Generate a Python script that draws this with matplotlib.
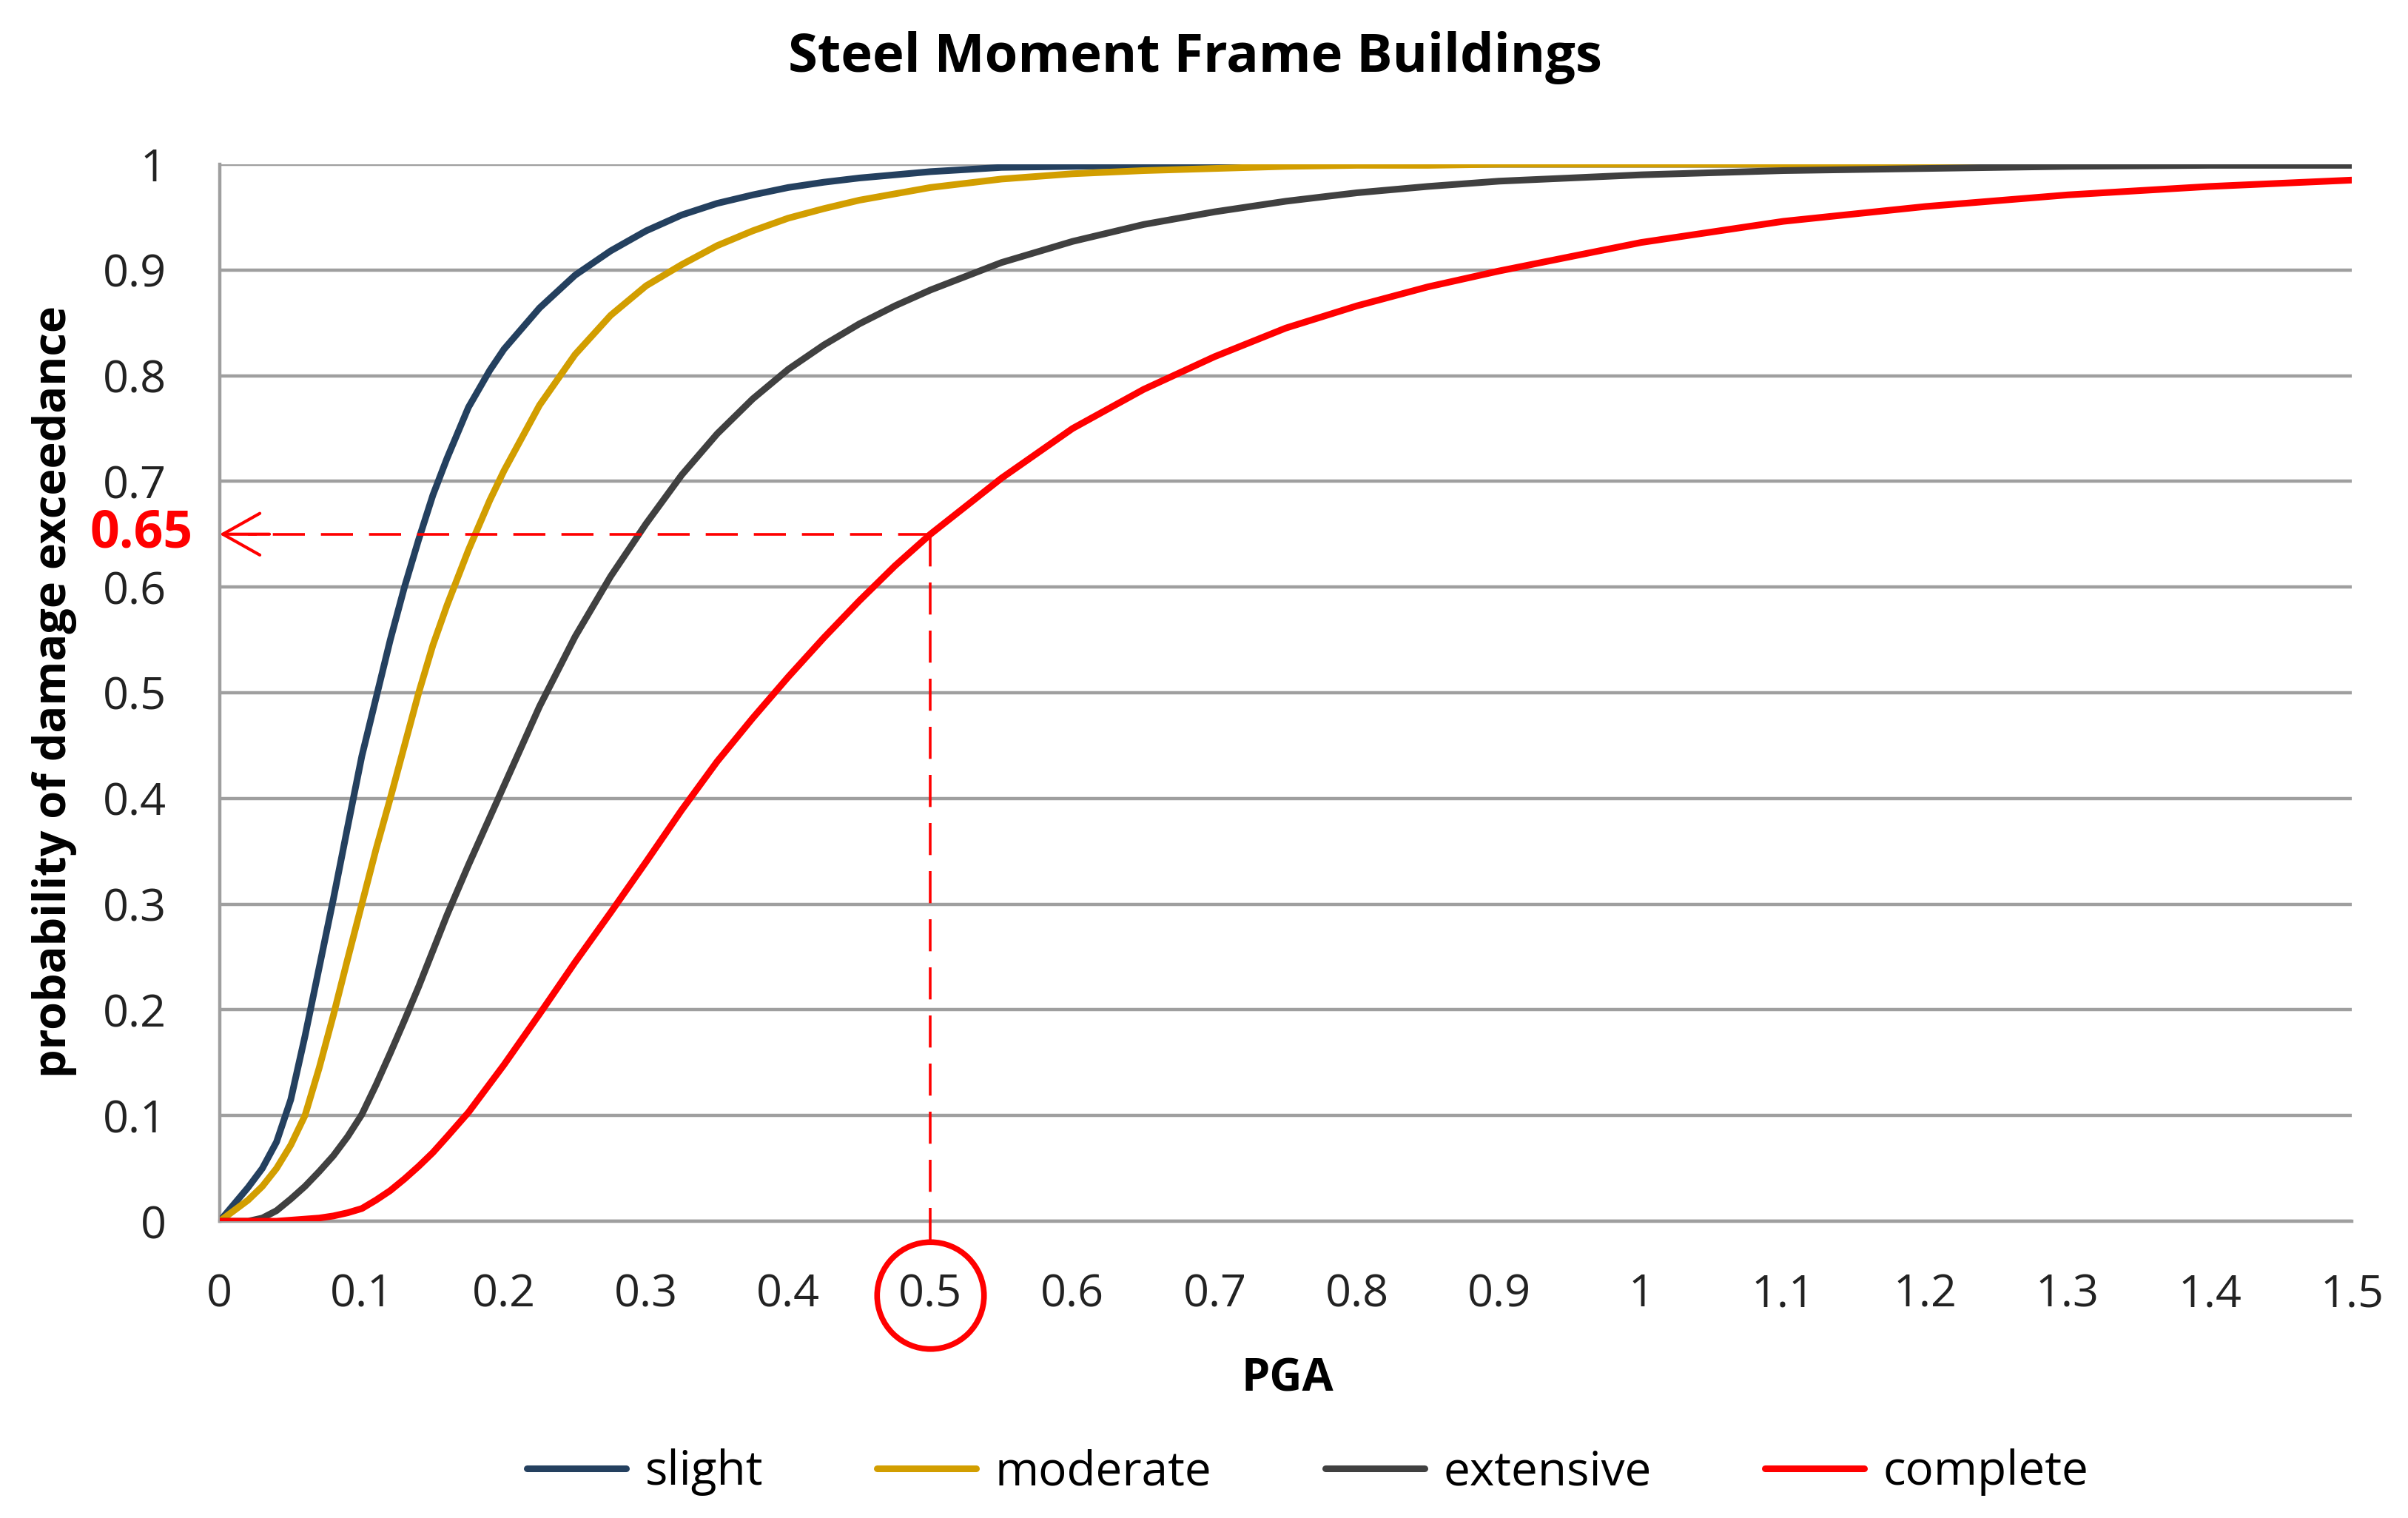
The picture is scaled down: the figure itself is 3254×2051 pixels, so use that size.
import numpy as np
import matplotlib
matplotlib.use('Agg')
import matplotlib.pyplot as plt

plt.rcParams['font.family'] = ['Open Sans', 'DejaVu Sans']

# values
pga = [0, 0.02, 0.03, 0.04, 0.05, 0.06, 0.07, 0.08, 0.09, 0.10, 0.11, 0.12, 0.13,
       0.14, 0.15, 0.16, 0.175, 0.19, 0.2, 0.225, 0.25, 0.275, 0.3, 0.325, 0.35,
       0.375, 0.4, 0.425, 0.45, 0.475, 0.5, 0.55, 0.6, 0.65, 0.7, 0.75, 0.8, 0.85,
       0.9, 1.0, 1.1, 1.2, 1.3, 1.4, 1.5]

slight = [0, 0.032, 0.05, 0.075, 0.115, 0.175, 0.24, 0.305, 0.373, 0.44, 0.495, 0.55,
          0.60, 0.645, 0.687, 0.722, 0.77, 0.805, 0.825, 0.864, 0.895, 0.918, 0.937,
          0.952, 0.963, 0.971, 0.978, 0.983, 0.987, 0.99, 0.993, 0.997, 0.998, 0.999,
          0.999, 1, 1, 1, 1, 1, 1, 1, 1, 1, 1]

moderate = [0, 0.02, 0.033, 0.05, 0.072, 0.1, 0.145, 0.195, 0.248, 0.30, 0.352, 0.40,
            0.45, 0.50, 0.545, 0.583, 0.635, 0.682, 0.71, 0.772, 0.82, 0.857, 0.885,
            0.905, 0.923, 0.937, 0.949, 0.958, 0.966, 0.972, 0.978, 0.986, 0.991,
            0.994, 0.996, 0.998, 0.999, 0.999, 1, 1, 1, 1, 1, 1, 1]

extensive = [0, 0, 0.003, 0.01, 0.021, 0.033, 0.047, 0.062, 0.08, 0.101, 0.129, 0.159,
             0.19, 0.222, 0.256, 0.29, 0.337, 0.382, 0.412, 0.487, 0.553, 0.61, 0.66,
             0.706, 0.745, 0.778, 0.806, 0.829, 0.849, 0.866, 0.881, 0.907, 0.927, 0.943,
             0.955, 0.965, 0.973, 0.979, 0.984, 0.99, 0.994, 0.996, 0.998, 0.999, 0.999]

complete = [0, 0, 0, 0, 0.001, 0.002, 0.003, 0.005, 0.008, 0.012, 0.02, 0.029, 0.04,
            0.052, 0.065, 0.08, 0.103, 0.13, 0.148, 0.196, 0.245, 0.292, 0.34, 0.389,
            0.435, 0.476, 0.515, 0.552, 0.587, 0.62, 0.65, 0.703, 0.75, 0.787, 0.818,
            0.845, 0.866, 0.884, 0.899, 0.926, 0.946, 0.96, 0.971, 0.979, 0.985]

labels = ['slight', 'moderate', 'extensive', 'complete']
colors = ['#24405f', '#d29e00', '#404040', '#ff0000']

# highlighted reading
hl_pga = 0.5
hl_prob = 0.65

xticks = np.round(np.arange(0, 1.51, 0.1), 1)
yticks = np.round(np.arange(0, 1.01, 0.1), 1)

def fmt(v):
    return '%g' % v

fig = plt.figure(figsize=(32.55, 20.51), dpi=100)
ax = fig.add_axes([0.0912, 0.1955, 0.8852, 0.6963])

for ys, lab, c in zip([slight, moderate, extensive, complete], labels, colors):
    ax.plot(pga, ys, color=c, lw=6.5, label=lab, zorder=3,
            solid_capstyle='round', solid_joinstyle='round')

ax.set_xlim(0, 1.5)
ax.set_ylim(0, 1)
ax.set_xticks(xticks)
ax.set_xticklabels([fmt(v) for v in xticks])
ax.set_yticks(yticks)
ax.set_yticklabels([fmt(v) for v in yticks])
ax.tick_params(length=0, labelsize=44, labelcolor='#222222')
ax.tick_params(axis='y', pad=52)
ax.tick_params(axis='x', pad=50)
ax.grid(axis='y', color='#9f9f9f', lw=3.2)
for s in ['top', 'right']:
    ax.spines[s].set_visible(False)
for s in ['left', 'bottom']:
    ax.spines[s].set_color('#9f9f9f')
    ax.spines[s].set_linewidth(3.2)

# dashed guide lines
ax.plot([hl_pga, 0.02], [hl_prob, hl_prob], color='red', lw=2.6,
        linestyle=(0, (12, 6)), zorder=4)
ax.plot([hl_pga, hl_pga], [hl_prob, -0.02], color='red', lw=2.6,
        linestyle=(0, (12, 6)), zorder=4, clip_on=False)
ax.annotate('', xy=(0, hl_prob), xytext=(0.035, hl_prob),
            arrowprops=dict(arrowstyle='->,head_length=0.8,head_width=0.45',
                            color='red', lw=3, mutation_scale=45,
                            shrinkA=0, shrinkB=0), zorder=5)
ax.plot(hl_pga, -0.07, marker='o', markersize=104, mfc='none', mec='red',
        mew=5.5, clip_on=False, zorder=5)
ax.text(-0.019, hl_prob, fmt(hl_prob), color='red', fontsize=50,
        fontweight='bold', ha='right', va='center')

fig.text(0.496, 0.962, 'Steel Moment Frame Buildings', fontsize=52,
         fontweight='bold', ha='center', va='center')
fig.text(0.0225, 0.5446, 'probability of damage exceedance', fontsize=44,
         fontweight='bold', rotation=90, ha='center', va='center')
fig.text(0.5345, 0.0912, 'PGA', fontsize=44, fontweight='bold',
         ha='center', va='center')

fig.legend(loc='center', bbox_to_anchor=(0.543, 0.03), ncol=4, frameon=False,
           fontsize=46, handlelength=2.1, handletextpad=0.4, columnspacing=2.4)

fig.savefig('out.png', dpi=100)
